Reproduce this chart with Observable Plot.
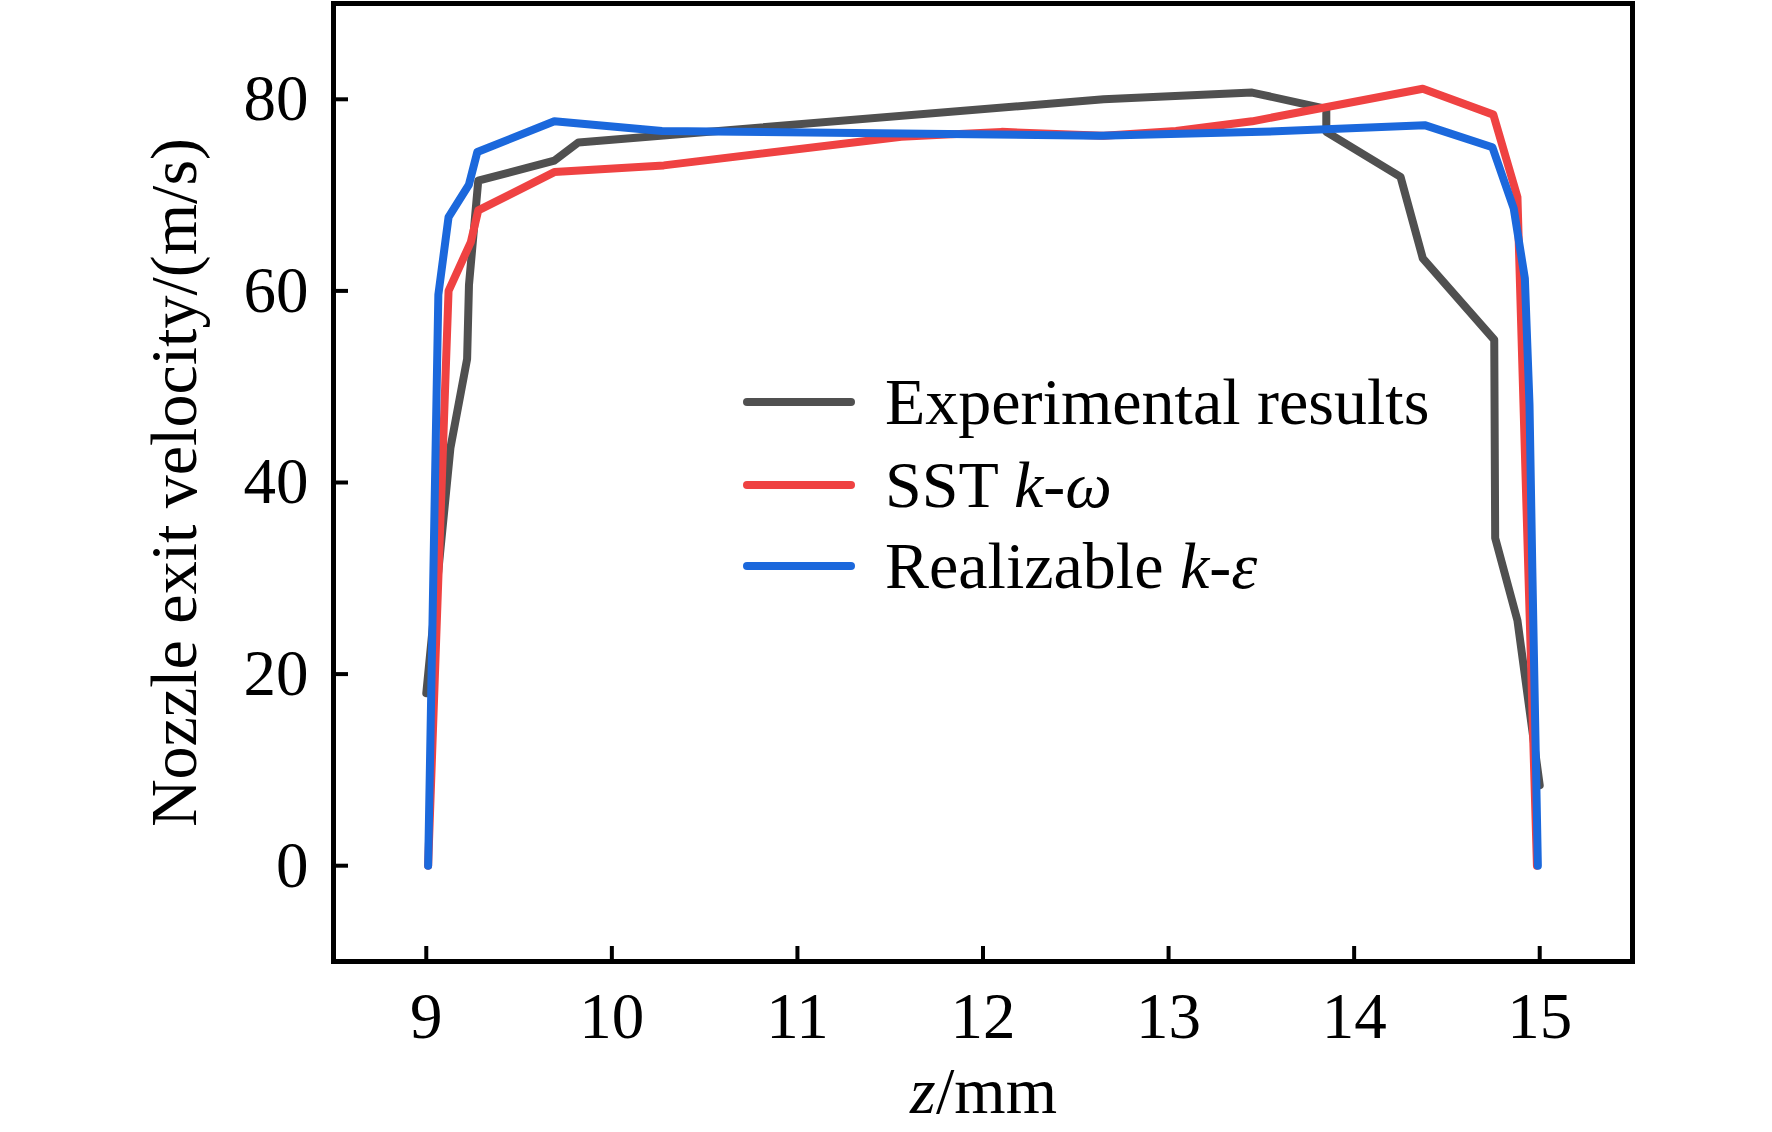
<!DOCTYPE html>
<html>
<head>
<meta charset="utf-8">
<script src="https://cdn.jsdelivr.net/npm/d3@7"></script>
<script src="https://cdn.jsdelivr.net/npm/@observablehq/plot@0.6"></script>
<style>
  html, body { margin: 0; padding: 0; background: #fff; }
  #wrap { position: relative; width: 1772px; height: 1132px; font-family: "Liberation Serif", "Times New Roman", serif; }
  .leg { position: absolute; display: flex; align-items: center; height: 66px; font-size: 66px; line-height: 66px; color: #000; white-space: nowrap; }
  .leg .sw { width: 112px; height: 8px; border-radius: 4px; }
  .leg .tx { margin-left: 30px; }
</style>
</head>
<body>
<div id="wrap"></div>
<script>
// Experimental results
const expZ = [9.0, 9.13, 9.22, 9.23, 9.28, 9.69, 9.82, 12.65, 13.45, 13.85, 13.85, 14.25, 14.37, 14.755, 14.76, 14.88, 15.0];
const expV = [18, 43.6, 52.9, 60.6, 71.5, 73.6, 75.5, 80.0, 80.7, 79.0, 76.6, 71.9, 63.4, 54.9, 34.2, 25.6, 8.4];
// SST k-omega
const sstZ = [9.01, 9.12, 9.24, 9.28, 9.69, 10.28, 11.56, 12.1, 12.65, 13.04, 13.45, 14.37, 14.75, 14.88, 14.985];
const sstV = [0, 60.0, 65.1, 68.4, 72.4, 73.1, 76.1, 76.6, 76.2, 76.7, 77.7, 81.1, 78.4, 69.8, 0];
// Realizable k-epsilon
const rkeZ = [9.01, 9.065, 9.12, 9.23, 9.275, 9.69, 10.27, 12.63, 13.5, 14.38, 14.745, 14.86, 14.92, 14.945, 14.96, 14.99];
const rkeV = [0, 59.6, 67.7, 71.1, 74.5, 77.7, 76.7, 76.2, 76.6, 77.3, 75.0, 68.6, 61.3, 48.1, 31.1, 0];

const xTicks = [9, 10, 11, 12, 13, 14, 15];
const yTicks = [0, 20, 40, 60, 80];
const seriesColors = ["#505050", "#ef4242", "#1b68dc"];
const legendLabels = [
  [["Experimental results", false]],
  [["SST ", false], ["k", true], ["-", false], ["ω", true]],
  [["Realizable ", false], ["k", true], ["-", false], ["ε", true]]
];
const yLabel = "Nozzle exit velocity/(m/s)";
const xLabelItalic = "z";
const xLabelRest = "/mm";

const toRows = (zs, vs) => zs.map((z, i) => ({z, v: vs[i]}));
const series = [toRows(expZ, expV), toRows(sstZ, sstV), toRows(rkeZ, rkeV)];

const fontFam = "'Liberation Serif', 'Times New Roman', serif";

const chart = Plot.plot({
  width: 1772,
  height: 1132,
  marginLeft: 333,
  marginRight: 140,
  marginTop: 3,
  marginBottom: 171,
  style: {fontFamily: fontFam, fontSize: "65px", color: "#000", background: "#fff", overflow: "visible"},
  x: {domain: [8.5, 15.5]},
  y: {domain: [-10, 90]},
  marks: [
    Plot.axisX({ticks: xTicks, tickSize: -15, tickPadding: 45, strokeWidth: 4, label: null, tickFormat: d => String(d)}),
    Plot.axisY({ticks: yTicks, tickSize: -15, tickPadding: 40, strokeWidth: 4, label: null, tickFormat: d => String(d)}),
    ...series.map((rows, i) => Plot.line(rows, {x: "z", y: "v", stroke: seriesColors[i], strokeWidth: 8, strokeLinejoin: "round", strokeLinecap: "round"})),
    Plot.frame({stroke: "#000", strokeWidth: 5}),
    Plot.text([yLabel], {text: d => d, frameAnchor: "left", dx: -159, rotate: -90, lineAnchor: "middle", textAnchor: "middle", fontSize: 66, fill: "#000"}),
    Plot.text([xLabelItalic], {text: d => d, frameAnchor: "bottom", dy: 130, dx: -73, lineAnchor: "middle", textAnchor: "start", fontSize: 66, fontStyle: "italic", fill: "#000"}),
    Plot.text([xLabelRest], {text: d => d, frameAnchor: "bottom", dy: 130, dx: -47, lineAnchor: "middle", textAnchor: "start", fontSize: 66, fill: "#000"})
  ]
});

const wrap = document.getElementById("wrap");
wrap.appendChild(chart);

const legTop = [402, 485, 566];
legendLabels.forEach((parts, i) => {
  const row = document.createElement("div");
  row.className = "leg";
  row.style.left = "743px";
  row.style.top = (legTop[i] - 33) + "px";
  const sw = document.createElement("div");
  sw.className = "sw";
  sw.style.background = seriesColors[i];
  row.appendChild(sw);
  const tx = document.createElement("span");
  tx.className = "tx";
  parts.forEach(([t, it]) => {
    const s = document.createElement("span");
    s.textContent = t;
    if (it) s.style.fontStyle = "italic";
    tx.appendChild(s);
  });
  row.appendChild(tx);
  wrap.appendChild(row);
});
</script>
</body>
</html>
